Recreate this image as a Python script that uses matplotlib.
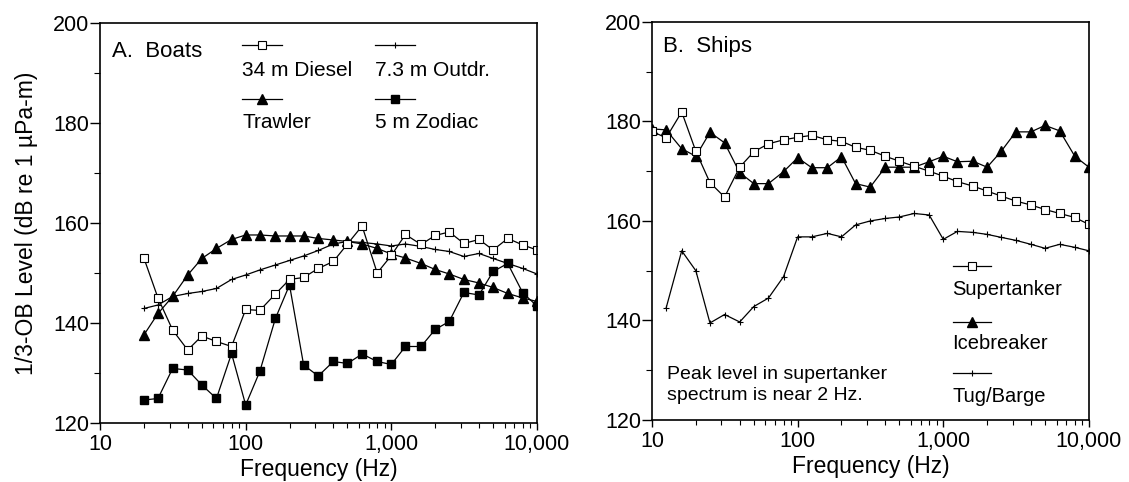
import numpy as np
import matplotlib
matplotlib.use("Agg")
import matplotlib.pyplot as plt
from matplotlib.ticker import MultipleLocator, LogLocator, FuncFormatter, NullFormatter

plt.rcParams['font.family'] = ['Liberation Sans', 'DejaVu Sans']

# 1/3-octave band centre frequencies
freq_boats = [20, 25, 31.5, 40, 50, 63, 80, 100, 125, 160, 200, 250, 315, 400, 500,
              630, 800, 1000, 1250, 1600, 2000, 2500, 3150, 4000, 5000, 6300, 8000, 10000]
freq_ships = [10, 12.5, 16] + freq_boats
freq_tug = freq_ships[1:]

diesel = [153, 145, 138.6, 134.6, 137.4, 136.3, 135.3, 142.7, 142.5, 145.8, 148.7, 149.1,
          150.9, 152.3, 155.8, 159.4, 150, 153.5, 157.7, 155.7, 157.5, 158.2, 155.9, 156.7,
          154.6, 156.9, 155.6, 154.6]
trawler = [137.6, 141.9, 145.3, 149.6, 152.9, 154.9, 156.7, 157.6, 157.6, 157.4, 157.4, 157.4,
           156.9, 156.6, 156.3, 155.8, 154.9, 153.8, 153.0, 151.9, 150.7, 149.8, 148.7, 148.0,
           147.1, 145.9, 145.0, 144.3]
outdr = [142.9, 143.6, 145.3, 145.9, 146.3, 146.9, 148.7, 149.6, 150.6, 151.6, 152.5, 153.4,
         154.5, 155.8, 156.3, 156.1, 155.8, 155.4, 155.8, 155.3, 154.7, 154.3, 153.3, 153.9,
         152.9, 151.9, 150.9, 149.8]
zodiac = [124.6, 124.9, 130.9, 130.6, 127.6, 124.9, 133.9, 123.6, 130.3, 140.9, 147.6, 131.6,
          129.4, 132.3, 131.9, 133.8, 132.3, 131.7, 135.3, 135.3, 138.7, 140.3, 146.1, 145.6,
          150.3, 151.9, 146.0, 143.4]

supertanker = [178, 176.7, 181.9, 174, 167.7, 164.8, 170.8, 173.9, 175.5, 176.3, 176.8, 177.2,
               176.3, 176, 174.8, 174.2, 173, 172, 171, 170, 169, 167.9, 167, 166, 165, 164,
               163.2, 162.3, 161.5, 160.7, 159.3]
icebreaker = [178.5, 178.3, 174.5, 173, 177.8, 175.7, 169.7, 167.5, 167.5, 169.9, 172.7, 170.7,
              170.7, 172.9, 167.5, 166.8, 170.8, 170.8, 170.8, 171.9, 173, 171.9, 172, 170.8,
              174, 177.9, 177.9, 179.2, 178.1, 173, 170.8]
tug = [142.5, 154, 150, 139.5, 141.2, 139.7, 142.8, 144.5, 148.8, 156.8, 156.8, 157.5, 156.8,
       159.2, 160, 160.5, 160.8, 161.5, 161.2, 156.3, 157.9, 157.7, 157.3, 156.7, 156.1, 155.3,
       154.5, 155.3, 154.7, 154]

x_ticks = [10, 100, 1000, 10000]
y_ticks = [120, 140, 160, 180, 200]

styles = {
    'open_sq': dict(marker='s', ms=5.5, mfc='white', mec='black', mew=0.8),
    'tri': dict(marker='^', ms=7.5, mfc='black', mec='black'),
    'plus': dict(marker='+', ms=5, mec='black', mew=0.8),
    'fill_sq': dict(marker='s', ms=6, mfc='black', mec='black'),
}

fig = plt.figure(figsize=(11.29, 4.82), dpi=100)
ax1 = fig.add_axes([0.0886, 0.1224, 0.387, 0.830])
ax2 = fig.add_axes([0.5775, 0.1286, 0.387, 0.826])


def setup(ax):
    ax.set_xscale('log')
    ax.set_xlim(10, 10000)
    ax.set_ylim(120, 200)
    ax.set_xticks(x_ticks)
    ax.xaxis.set_major_formatter(FuncFormatter(lambda v, p: '{:,.0f}'.format(v)))
    ax.xaxis.set_minor_locator(LogLocator(base=10, subs=np.arange(2, 10)))
    ax.xaxis.set_minor_formatter(NullFormatter())
    ax.set_yticks(y_ticks)
    ax.yaxis.set_minor_locator(MultipleLocator(10))
    ax.tick_params(axis='both', which='major', direction='out', labelsize=15.5, width=1)
    ax.tick_params(axis='x', which='major', length=5, pad=3)
    ax.tick_params(axis='y', which='major', length=7, pad=1)
    ax.tick_params(axis='x', which='minor', length=3.5, width=0.8)
    ax.tick_params(axis='y', which='minor', length=4, width=0.8)
    for s in ax.spines.values():
        s.set_linewidth(1.2)
    ax.set_xlabel('Frequency (Hz)', fontsize=16.5)
    ax.xaxis.set_label_coords(0.5, -0.088)


def legend_item(ax, x0, x1, ys, yt, label, style, size):
    ax.plot([x0, (x0 + x1) / 2, x1], [ys, ys, ys], color='black', lw=0.9,
            markevery=[1], transform=ax.transAxes, clip_on=False, **style)
    ax.text(x0, yt, label, transform=ax.transAxes, ha='left', va='center', fontsize=size)


# Panel A: boats
setup(ax1)
ax1.plot(freq_boats, zodiac, color='black', lw=0.9, **styles['fill_sq'])
ax1.plot(freq_boats, outdr, color='black', lw=0.9, **styles['plus'])
ax1.plot(freq_boats, trawler, color='black', lw=0.9, **styles['tri'])
ax1.plot(freq_boats, diesel, color='black', lw=0.9, **styles['open_sq'])
ax1.set_ylabel('1/3-OB Level (dB re 1 \u00b5Pa-m)', fontsize=16.5)
ax1.yaxis.set_label_coords(-0.142, 0.5)
ax1.text(0.027, 0.928, 'A.  Boats', transform=ax1.transAxes, ha='left', va='center', fontsize=16)
legend_item(ax1, 0.325, 0.416, 0.945, 0.882, '34 m Diesel', styles['open_sq'], 15)
legend_item(ax1, 0.325, 0.416, 0.810, 0.750, 'Trawler', styles['tri'], 15)
legend_item(ax1, 0.629, 0.721, 0.945, 0.882, '7.3 m Outdr.', styles['plus'], 15)
legend_item(ax1, 0.629, 0.721, 0.810, 0.750, '5 m Zodiac', styles['fill_sq'], 15)

# Panel B: ships
setup(ax2)
ax2.plot(freq_tug, tug, color='black', lw=0.9, **styles['plus'])
ax2.plot(freq_ships, icebreaker, color='black', lw=0.9, **styles['tri'])
ax2.plot(freq_ships, supertanker, color='black', lw=0.9, **styles['open_sq'])
ax2.text(0.025, 0.937, 'B.  Ships', transform=ax2.transAxes, ha='left', va='center', fontsize=16)
ax2.text(0.034, 0.087, 'Peak level in supertanker\nspectrum is near 2 Hz.', transform=ax2.transAxes,
         ha='left', va='center', fontsize=14, linespacing=1.3)
legend_item(ax2, 0.688, 0.775, 0.387, 0.327, 'Supertanker', styles['open_sq'], 14.5)
legend_item(ax2, 0.688, 0.775, 0.246, 0.193, 'Icebreaker', styles['tri'], 14.5)
legend_item(ax2, 0.688, 0.775, 0.118, 0.058, 'Tug/Barge', styles['plus'], 14.5)

fig.savefig('out.png', dpi=100)
